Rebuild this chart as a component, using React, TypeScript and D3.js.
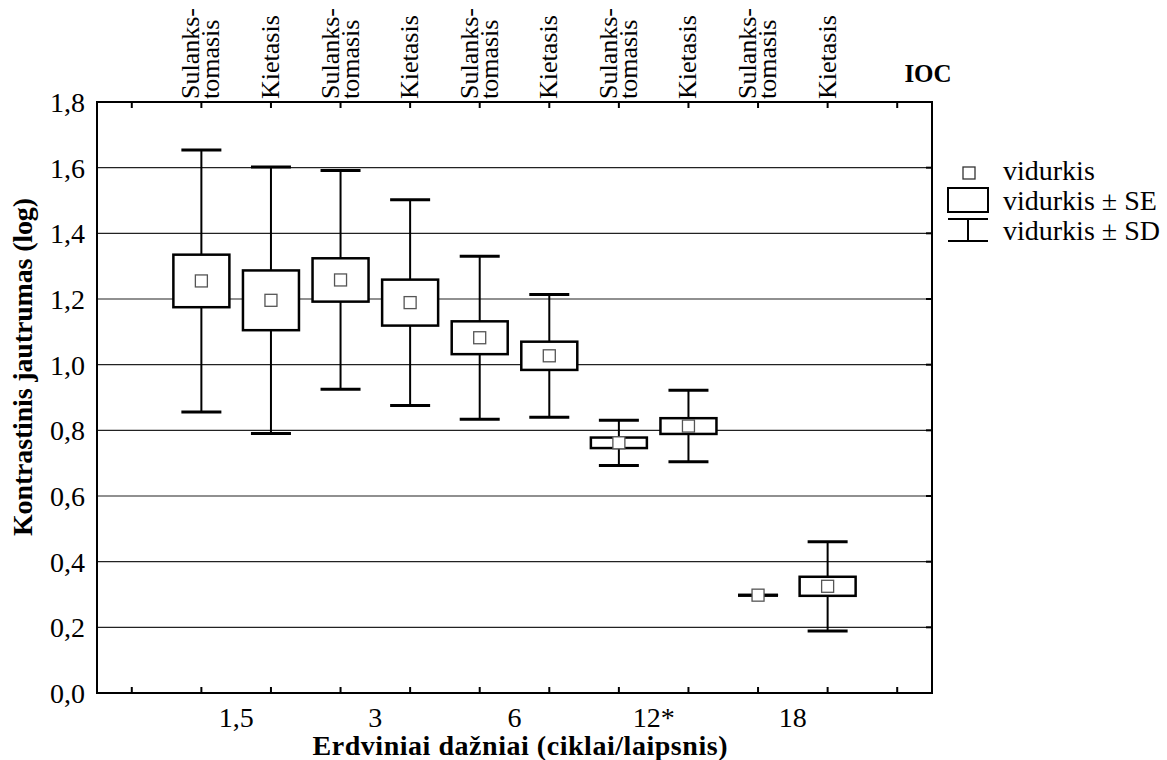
import React from 'react';
import * as d3 from 'd3';

// group labels on the x axis (one per pair of boxes)
const frequencies = ['1,5', '3', '6', '12*', '18'];
// top labels, alternating per box
const surfaceTypes = [['Sulanks-', 'tomasis'], ['Kietasis']];
// vidurkis (mean), SE and SD per box, in order: 1,5 S, 1,5 K, 3 S, 3 K, ...
const means = [1.255, 1.196, 1.258, 1.189, 1.082, 1.027, 0.762, 0.813, 0.298, 0.325];
const seValues = [0.080, 0.091, 0.066, 0.070, 0.050, 0.043, 0.016, 0.024, 0.0, 0.029];
const sdValues = [0.399, 0.406, 0.333, 0.313, 0.248, 0.187, 0.069, 0.109, 0.0, 0.136];
const yTicks = [0, 0.2, 0.4, 0.6, 0.8, 1.0, 1.2, 1.4, 1.6, 1.8];
const legendLabels = ['vidurkis', 'vidurkis \u00b1 SE', 'vidurkis \u00b1 SD'];

const W = 1167;
const H = 760;
const plot = { left: 97, right: 932, top: 102, bottom: 693 };
const FONT = '"Liberation Serif", "Times New Roman", Times, serif';

export default function App() {
  const x = d3.scaleLinear().domain([-1.5, 10.5]).range([plot.left, plot.right]);
  const y = d3.scaleLinear().domain([0, 1.8]).range([plot.bottom, plot.top]);
  const tickPositions = d3.range(-1, 11);
  const fmt = (v: number) => v.toFixed(1).replace('.', ',');

  const boxHalf = 28;
  const capHalf = 20;
  const meanHalf = 6;

  return (
    <svg
      width={W}
      height={H}
      viewBox={`0 0 ${W} ${H}`}
      style={{ position: 'absolute', left: 0, top: 0, background: '#fff' }}
      fontFamily={FONT}
    >
      <rect x={0} y={0} width={W} height={H} fill="#fff" />

      {/* gridlines */}
      {yTicks.slice(1, -1).map((t) => (
        <line key={t} x1={plot.left} x2={plot.right} y1={y(t)} y2={y(t)} stroke="#222" strokeWidth={1.2} />
      ))}

      {/* y tick labels */}
      {yTicks.map((t) => (
        <text key={t} x={85} y={y(t) + 10} textAnchor="end" fontSize={28} fill="#000">
          {fmt(t)}
        </text>
      ))}

      {/* x ticks top and bottom */}
      {tickPositions.map((p) => (
        <g key={p}>
          <line x1={x(p)} x2={x(p)} y1={plot.bottom} y2={plot.bottom - 6} stroke="#000" strokeWidth={2} />
          <line x1={x(p)} x2={x(p)} y1={plot.top} y2={plot.top + 6} stroke="#000" strokeWidth={2} />
        </g>
      ))}
      {/* right axis ticks */}
      {yTicks.map((t) => (
        <line key={t} x1={plot.right} x2={plot.right - 6} y1={y(t)} y2={y(t)} stroke="#000" strokeWidth={2} />
      ))}

      {/* boxes */}
      {means.map((m, i) => {
        const cx = x(i);
        const se = seValues[i];
        const sd = sdValues[i];
        return (
          <g key={i}>
            <line x1={cx} x2={cx} y1={y(m + sd)} y2={y(m - sd)} stroke="#000" strokeWidth={2} />
            <line x1={cx - capHalf} x2={cx + capHalf} y1={y(m + sd)} y2={y(m + sd)} stroke="#000" strokeWidth={3} />
            <line x1={cx - capHalf} x2={cx + capHalf} y1={y(m - sd)} y2={y(m - sd)} stroke="#000" strokeWidth={3} />
            <rect
              x={cx - boxHalf}
              y={y(m + se)}
              width={boxHalf * 2}
              height={Math.max(0, y(m - se) - y(m + se))}
              fill="#fff"
              stroke="#000"
              strokeWidth={2.5}
            />
            <rect
              x={cx - meanHalf}
              y={y(m) - meanHalf}
              width={meanHalf * 2}
              height={meanHalf * 2}
              fill="#fff"
              stroke="#555"
              strokeWidth={1.3}
            />
          </g>
        );
      })}

      {/* frame */}
      <rect
        x={plot.left}
        y={plot.top}
        width={plot.right - plot.left}
        height={plot.bottom - plot.top}
        fill="none"
        stroke="#000"
        strokeWidth={2}
      />

      {/* top rotated labels */}
      {means.map((_, i) => {
        const cx = x(i);
        const lines = surfaceTypes[i % 2];
        const offsets = lines.length === 2 ? [-2, 18] : [8];
        return lines.map((ln, j) => (
          <text
            key={`${i}-${j}`}
            transform={`translate(${cx + offsets[j]},99) rotate(-90)`}
            fontSize={26}
            fill="#000"
          >
            {ln}
          </text>
        ));
      })}

      <text x={928} y={82} textAnchor="middle" fontSize={25} fontWeight="bold" fill="#000">
        IOC
      </text>

      {/* x group labels */}
      {frequencies.map((f, k) => (
        <text key={f} x={(x(2 * k) + x(2 * k + 1)) / 2} y={727} textAnchor="middle" fontSize={28} fill="#000">
          {f}
        </text>
      ))}

      {/* axis titles */}
      <text
        x={520}
        y={755}
        textAnchor="middle"
        fontSize={28}
        fontWeight="bold"
        textLength={415}
        lengthAdjust="spacing"
        fill="#000"
      >
        Erdviniai dažniai (ciklai/laipsnis)
      </text>
      <text
        transform={`translate(32,367) rotate(-90)`}
        textAnchor="middle"
        fontSize={28}
        fontWeight="bold"
        textLength={338}
        lengthAdjust="spacing"
        fill="#000"
      >
        Kontrastinis jautrumas (log)
      </text>

      {/* legend */}
      <g>
        <rect x={963} y={167} width={12} height={12} fill="#fff" stroke="#333" strokeWidth={1.3} />
        <rect x={948} y={188} width={40} height={24} fill="#fff" stroke="#000" strokeWidth={2} />
        <line x1={948} x2={988} y1={219} y2={219} stroke="#000" strokeWidth={2} />
        <line x1={968} x2={968} y1={219} y2={241} stroke="#000" strokeWidth={2} />
        <line x1={948} x2={988} y1={241} y2={241} stroke="#000" strokeWidth={2} />
        {legendLabels.map((l, k) => (
          <text key={l} x={1003} y={180 + k * 30} fontSize={28} fill="#000">
            {l}
          </text>
        ))}
      </g>
    </svg>
  );
}
